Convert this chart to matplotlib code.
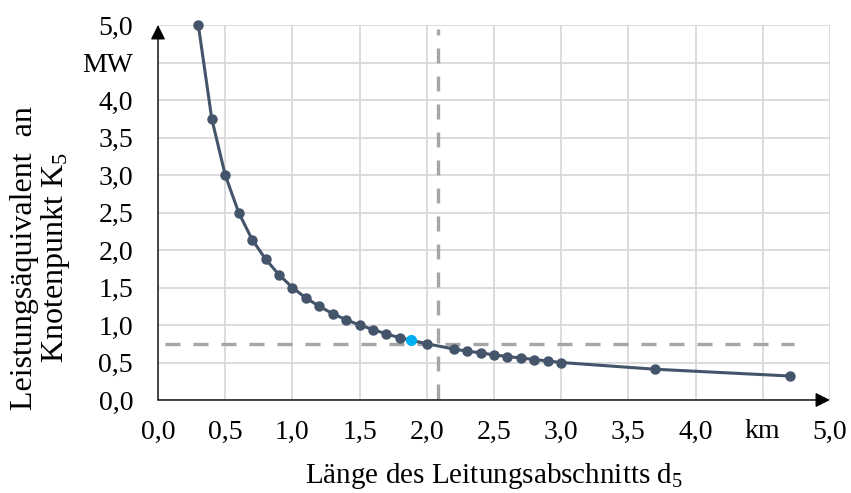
import matplotlib
matplotlib.use('Agg')

from matplotlib import pyplot

pyplot.rcParams['font.family'] = ['Liberation Serif', 'DejaVu Serif']
pyplot.rcParams['mathtext.fontset'] = 'custom'
pyplot.rcParams['mathtext.rm'] = 'Liberation Serif'
pyplot.rcParams['mathtext.it'] = 'Liberation Serif:italic'

# Leitungslänge d5 in km und Leistungsäquivalent in MW
laenge = [0.3, 0.4, 0.5, 0.6, 0.7, 0.8, 0.9, 1.0, 1.1, 1.2, 1.3, 1.4, 1.5,
          1.6, 1.7, 1.8, 2.0, 2.2, 2.3, 2.4, 2.5, 2.6, 2.7, 2.8, 2.9, 3.0,
          3.7, 4.7]
leistung = [5.0, 3.75, 3.0, 2.5, 2.14, 1.88, 1.67, 1.5, 1.36, 1.25, 1.15,
            1.07, 1.0, 0.94, 0.88, 0.83, 0.75, 0.68, 0.65, 0.63, 0.60, 0.58,
            0.56, 0.54, 0.52, 0.50, 0.41, 0.32]
# markierter Punkt
punkt_x = 1.88
punkt_y = 0.80
# Grenzwerte (gestrichelt)
grenz_x = 2.08
grenz_y = 0.75

ticks = [0.0, 0.5, 1.0, 1.5, 2.0, 2.5, 3.0, 3.5, 4.0, 4.5, 5.0]
x_labels = ['0,0', '0,5', '1,0', '1,5', '2,0', '2,5', '3,0', '3,5', '4,0', 'km', '5,0']
y_labels = ['0,0', '0,5', '1,0', '1,5', '2,0', '2,5', '3,0', '3,5', '4,0', 'MW', '5,0']

W, H = 851, 493
fig = pyplot.figure(figsize=(W / 100.0, H / 100.0), dpi=100)
ax = fig.add_axes([158.0 / W, 1 - 400.0 / H, 672.0 / W, 375.0 / H])

ax.set_xlim(0, 5)
ax.set_ylim(0, 5)
ax.set_xticks(ticks)
ax.set_yticks(ticks)
ax.set_xticklabels(x_labels, fontsize=20)
ax.set_yticklabels(y_labels, fontsize=20)
ax.tick_params(axis='y', length=0, pad=18)
ax.tick_params(axis='x', length=0, pad=14)
ax.grid(True, color='#d9d9d9', linewidth=1.3, zorder=0)
ax.set_axisbelow(True)
for s in ax.spines.values():
    s.set_visible(False)

# gestrichelte Linien
ax.plot([0.05, 4.73], [grenz_y, grenz_y], color='#a5a5a5', linewidth=2.4,
        dashes=(4.5, 3.9), dash_capstyle='butt', zorder=2, clip_on=False)
ax.plot([grenz_x, grenz_x], [0.02, 4.95], color='#a5a5a5', linewidth=2.4,
        dashes=(4.5, 3.9), dash_capstyle='butt', zorder=2, clip_on=False)

# Kurve
ax.plot(laenge, leistung, '-o', color='#44546a', linewidth=2.2, markersize=6.5,
        zorder=3, clip_on=False)
ax.plot([punkt_x], [punkt_y], 'o', color='#00b0f0', markersize=7, zorder=4,
        clip_on=False)

# Achsen mit Pfeilen
arrow = dict(arrowstyle='-|>', color='black', lw=1.0, mutation_scale=22,
             shrinkA=0, shrinkB=0)
ax.annotate('', xy=(5.0, 0), xytext=(0, 0), arrowprops=arrow,
            annotation_clip=False, zorder=5)
ax.annotate('', xy=(0, 5.0), xytext=(0, 0), arrowprops=arrow,
            annotation_clip=False, zorder=5)

fig.text(494.0 / W, 1 - 476.0 / H, 'Länge des Leitungsabschnitts d$_5$',
         fontsize=21, ha='center', va='center')
fig.text(41.0 / W, 1 - 258.0 / H, 'Leistungsäquivalent  an\nKnotenpunkt K$_5$',
         fontsize=23, ha='center', va='center', rotation=90,
         multialignment='center', linespacing=1.0)

pyplot.savefig('out.png', dpi=100)
pyplot.close()
